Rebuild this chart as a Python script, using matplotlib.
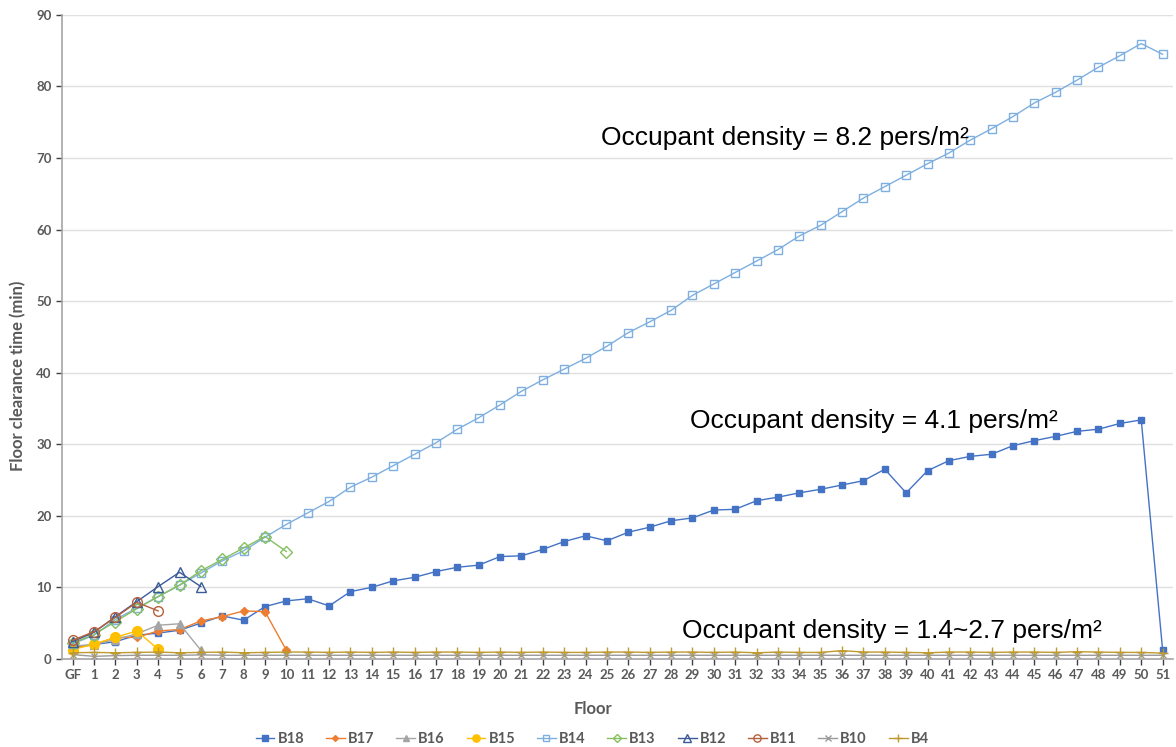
import matplotlib.pyplot as plt

# floor labels on the category axis
floors = ["GF"] + [str(i) for i in range(1, 52)]

b18 = [1.6, 2.0, 2.4, 3.3, 3.6, 4.0, 5.0, 6.0, 5.4, 7.3, 8.1, 8.4, 7.4, 9.4, 10.0,
       10.9, 11.4, 12.2, 12.8, 13.1, 14.3, 14.4, 15.3, 16.4, 17.2, 16.5, 17.7, 18.4,
       19.3, 19.7, 20.8, 20.9, 22.1, 22.6, 23.2, 23.7, 24.3, 24.9, 26.5, 23.2, 26.3,
       27.7, 28.3, 28.6, 29.8, 30.5, 31.1, 31.8, 32.1, 32.9, 33.4, 1.25]
b17 = [1.5, 2.0, 3.0, 3.0, 3.9, 4.1, 5.3, 5.9, 6.7, 6.6, 1.2]
b16 = [1.8, 2.0, 2.7, 3.5, 4.7, 4.9, 1.2]
b15 = [1.3, 2.05, 3.0, 3.9, 1.35]
b14 = [2.1, 3.3, 5.5, 7.1, 8.7, 10.3, 12.0, 13.7, 15.1, 17.0, 18.8, 20.4, 22.0, 24.0,
       25.4, 27.0, 28.6, 30.2, 32.1, 33.7, 35.5, 37.4, 39.0, 40.5, 42.0, 43.7, 45.6,
       47.1, 48.7, 50.8, 52.4, 54.0, 55.6, 57.2, 59.1, 60.6, 62.5, 64.4, 66.0, 67.6,
       69.2, 70.7, 72.5, 74.1, 75.8, 77.7, 79.2, 80.9, 82.7, 84.3, 86.0, 84.5]
b13 = [2.2, 3.4, 5.2, 7.0, 8.7, 10.3, 12.3, 13.9, 15.5, 17.1, 15.0]
b12 = [2.4, 3.7, 5.9, 8.0, 10.1, 12.1, 10.1]
b11 = [2.6, 3.8, 5.8, 7.9, 6.7]
b10 = [0.6, 0.35, 0.45, 0.5, 0.5, 0.5, 0.55, 0.5, 0.5, 0.5, 0.5, 0.5, 0.5, 0.5, 0.5,
       0.5, 0.5, 0.5, 0.5, 0.5, 0.5, 0.5, 0.5, 0.5, 0.5, 0.5, 0.5, 0.5, 0.5, 0.5,
       0.5, 0.5, 0.5, 0.5, 0.5, 0.5, 0.5, 0.5, 0.5, 0.5, 0.5, 0.5, 0.5, 0.5, 0.5,
       0.5, 0.5, 0.5, 0.5, 0.5, 0.5, 0.5]
b4 = [0.85, 0.9, 0.85, 0.9, 0.95, 0.85, 0.9, 0.95, 0.85, 0.9, 0.95, 0.95, 0.9, 0.95,
      0.9, 0.95, 0.9, 0.95, 0.95, 0.9, 0.95, 0.9, 0.95, 0.9, 0.9, 0.95, 0.95, 0.9,
      0.95, 0.95, 0.9, 0.95, 0.85, 0.95, 0.9, 0.9, 1.15, 0.95, 0.95, 0.9, 0.85, 0.95,
      0.95, 0.9, 0.95, 0.95, 0.9, 1.0, 0.95, 0.9, 0.9, 0.8]

series = [
    ("B18", b18, "#4472C4", "s", 5, True),
    ("B17", b17, "#ED7D31", "D", 4, True),
    ("B16", b16, "#A5A5A5", "^", 6, True),
    ("B15", b15, "#FFC000", "o", 7, True),
    ("B14", b14, "#7EAFE0", "s", 6, False),
    ("B13", b13, "#86C05E", "D", 6, False),
    ("B12", b12, "#3A5A98", "^", 7, False),
    ("B11", b11, "#B5603A", "o", 7, False),
    ("B10", b10, "#9A9A9A", "x", 5, False),
    ("B4", b4, "#BF9A2E", "+", 7, False),
]

plt.rcParams['font.family'] = ['Lato', 'DejaVu Sans']
grey = "#595959"

fig = plt.figure(figsize=(11.76, 7.47), dpi=100)
ax = fig.add_axes([0.0527, 0.118, 0.945, 0.862])

for name, vals, col, mk, ms, filled in series:
    x = list(range(len(vals)))
    ax.plot(x, vals, color=col, lw=1.0, marker=mk, markersize=ms,
            markerfacecolor=col if filled else "none", markeredgecolor=col,
            markeredgewidth=1.0, label=name, zorder=3)

ax.set_xlim(-0.5, 51.5)
ax.set_ylim(0, 90)
ax.set_yticks(range(0, 91, 10))
ax.set_xticks(range(len(floors)))
ax.set_xticklabels(floors)
ax.tick_params(axis="both", labelsize=9.5, labelcolor=grey, color="#404040",
               length=4, width=1)
for lab in ax.get_xticklabels() + ax.get_yticklabels():
    lab.set_fontweight("bold")
ax.grid(axis="y", color="#E0E0E0", lw=1)
ax.set_axisbelow(True)
for s in ["top", "right"]:
    ax.spines[s].set_visible(False)
ax.spines["left"].set_color("#A6A6A6")
ax.spines["bottom"].set_color("#A6A6A6")
ax.spines["left"].set_linewidth(1.2)
ax.spines["bottom"].set_linewidth(1.2)

ax.set_xlabel("Floor", fontsize=12, fontweight="bold", color=grey)
ax.set_ylabel("Floor clearance time (min)", fontsize=12, fontweight="bold",
              color=grey)
ax.xaxis.set_label_coords(0.478, -0.066)
ax.yaxis.set_label_coords(-0.032, 0.44)

ann = dict(fontsize=19, family="Liberation Sans", color="black", va="center", ha="left")
ax.text(24.7, 72.8, "Occupant density = 8.2 pers/m²", **ann)
ax.text(28.9, 33.3, "Occupant density = 4.1 pers/m²", **ann)
ax.text(28.5, 3.9, "Occupant density = 1.4~2.7 pers/m²", **ann)

leg = ax.legend(loc="upper center", bbox_to_anchor=(0.477, -0.093), ncol=10,
                frameon=False, handlelength=1.3, columnspacing=1.5,
                handletextpad=0.2, markerscale=0.75,
                prop={"size": 10.5, "weight": "bold"})
for t in leg.get_texts():
    t.set_color(grey)

fig.savefig("out.png", dpi=100)
